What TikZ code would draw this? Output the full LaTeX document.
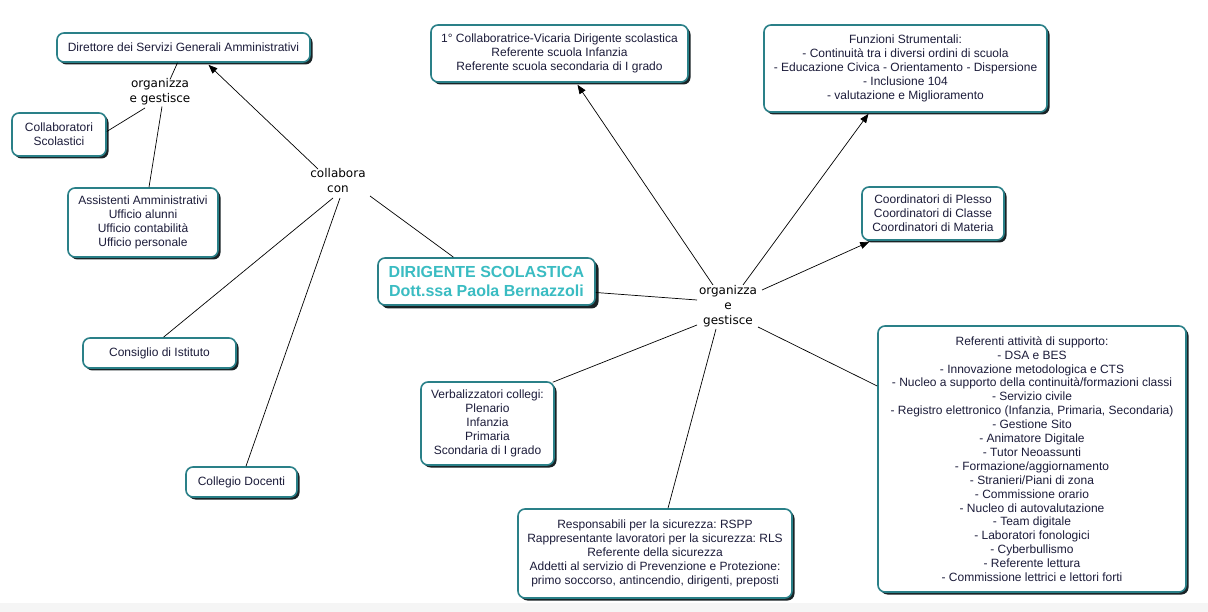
\documentclass[tikz,border=0pt]{standalone}
\usepackage{fontspec}
\setmainfont{Liberation Sans}
\newfontfamily\lblfont{DejaVu Sans}
\usetikzlibrary{shadows,arrows.meta,calc}
\definecolor{boxc}{RGB}{42,128,136}
\definecolor{txtc}{RGB}{28,28,58}
\definecolor{dirc}{RGB}{58,188,194}
\definecolor{shadc}{RGB}{25,35,38}
\tikzset{
 cbox/.style={draw=boxc, line width=1.6pt, fill=white, rounded corners=7pt, align=center, text=txtc,
   font=\fontsize{12}{13.9}\selectfont, inner sep=0pt,
   drop shadow={shadow xshift=2.5pt, shadow yshift=-2.5pt, fill=shadc, opacity=1}},
 lbl/.style={align=center, font=\lblfont\fontsize{12}{15}\selectfont, inner sep=1pt, text=black},
 conn/.style={draw=black, line width=0.7pt},
 arr/.style={conn, -{Triangle[length=9pt,width=7pt]}},
}
\begin{document}
\begin{tikzpicture}[x=1pt,y=-1pt]
\useasboundingbox[fill=white] (0,0) rectangle (1208,612);
\fill[black!4] (0,603) rectangle (1208,612);
% left part
\node[cbox, minimum width=253, minimum height=29] (dir) at (183.5,47.5) {Direttore dei Servizi Generali Amministrativi};
\node[lbl] (lo) at (160,92) {organizza\\e gestisce};
\node[cbox, minimum width=94, minimum height=43] (coll) at (59,134.5) {Collaboratori\\Scolastici};
\node[cbox, minimum width=150, minimum height=69] (asst) at (143,222.5) {Assistenti Amministrativi\\Ufficio alunni\\Ufficio contabilità\\Ufficio personale};
\node[lbl] (col) at (338,181) {collabora\\con};
\node[cbox, minimum width=217, minimum height=47, text=dirc, font=\bfseries\fontsize{16}{19}\selectfont,
  drop shadow={shadow xshift=3.5pt, shadow yshift=-3.5pt, fill=shadc, opacity=1}] (DIR) at (486.5,281.5) {DIRIGENTE SCOLASTICA\\Dott.ssa Paola Bernazzoli};
\node[cbox, minimum width=153, minimum height=30] (cons) at (159.5,353) {Consiglio di Istituto};
\node[cbox, minimum width=111, minimum height=30] (coleg) at (241.5,482) {Collegio Docenti};
% right part
\node[cbox, minimum width=257, minimum height=57] (coll1) at (559.5,53.5) {1° Collaboratrice-Vicaria Dirigente scolastica\\Referente scuola Infanzia\\Referente scuola secondaria di I grado};
\node[cbox, minimum width=283, minimum height=87] (fs) at (905.5,68.5) {Funzioni Strumentali:\\- Continuità tra i diversi ordini di scuola\\- Educazione Civica - Orientamento - Dispersione\\- Inclusione 104\\- valutazione e Miglioramento};
\node[cbox, minimum width=142, minimum height=53] (coord) at (933,213.5) {Coordinatori di Plesso\\Coordinatori di Classe\\Coordinatori di Materia};
\node[lbl] (og) at (728,306) {organizza\\e\\gestisce};
\node[cbox, minimum width=308, minimum height=266] (ref) at (1032,459) {Referenti attività di supporto:\\- DSA e BES\\- Innovazione metodologica e CTS\\- Nucleo a supporto della continuità/formazioni classi\\- Servizio civile\\- Registro elettronico (Infanzia, Primaria, Secondaria)\\- Gestione Sito\\- Animatore Digitale\\- Tutor Neoassunti\\- Formazione/aggiornamento\\- Stranieri/Piani di zona\\- Commissione orario\\- Nucleo di autovalutazione\\- Team digitale\\- Laboratori fonologici\\- Cyberbullismo\\- Referente lettura\\- Commissione lettrici e lettori forti};
\node[cbox, minimum width=133, minimum height=83] (verb) at (487.5,423.5) {Verbalizzatori collegi:\\Plenario\\Infanzia\\Primaria\\Scondaria di I grado};
\node[cbox, minimum width=274, minimum height=89, font=\frenchspacing\fontsize{12}{13.9}\selectfont] (resp) at (655,553.5) {Responsabili per la sicurezza: RSPP\\Rappresentante lavoratori per la sicurezza: RLS\\Referente della sicurezza\\Addetti al servizio di Prevenzione e Protezione:\\primo soccorso, antincendio, dirigenti, preposti};
% connectors left
\draw[conn] ($(dir.south)+(-6,0)$) -- ($(lo.north)+(10,2)$);
\draw[conn] ($(lo.center)+(-15,16)$) -- ($(coll.east)+(0,-3)$);
\draw[conn] ($(lo.south)+(2,0)$) -- ($(asst.north)+(6,0)$);
\draw[arr] ($(col.center)+(-20,-12)$) -- ($(dir.south)+(25,2)$);
\draw[conn] ($(DIR.north)+(-33,0)$) -- ($(col.center)+(32,15)$);
\draw[conn] ($(col.center)+(-5,17)$) -- ($(cons.north)+(4,0)$);
\draw[conn] ($(col.center)+(2,17)$) -- ($(coleg.north)+(4.5,0)$);
% connectors right
\draw[conn] ($(DIR.east)+(0,11)$) -- ($(og.center)+(-31,-6)$);
\draw[arr] ($(og.center)+(-15,-21)$) -- ($(coll1.south)+(18,2)$);
\draw[arr] ($(og.center)+(15,-21)$) -- ($(fs.south)+(-37,1)$);
\draw[arr] ($(og.center)+(34,-16)$) -- ($(coord.south west)+(8,1)$);
\draw[conn] ($(og.center)+(30,21)$) -- ($(ref.west)+(0,-73)$);
\draw[conn] ($(og.center)+(-31,19)$) -- ($(verb.north east)+(-2,1)$);
\draw[conn] ($(og.center)+(-12,23)$) -- ($(resp.north)+(13,0)$);
\end{tikzpicture}
\end{document}
